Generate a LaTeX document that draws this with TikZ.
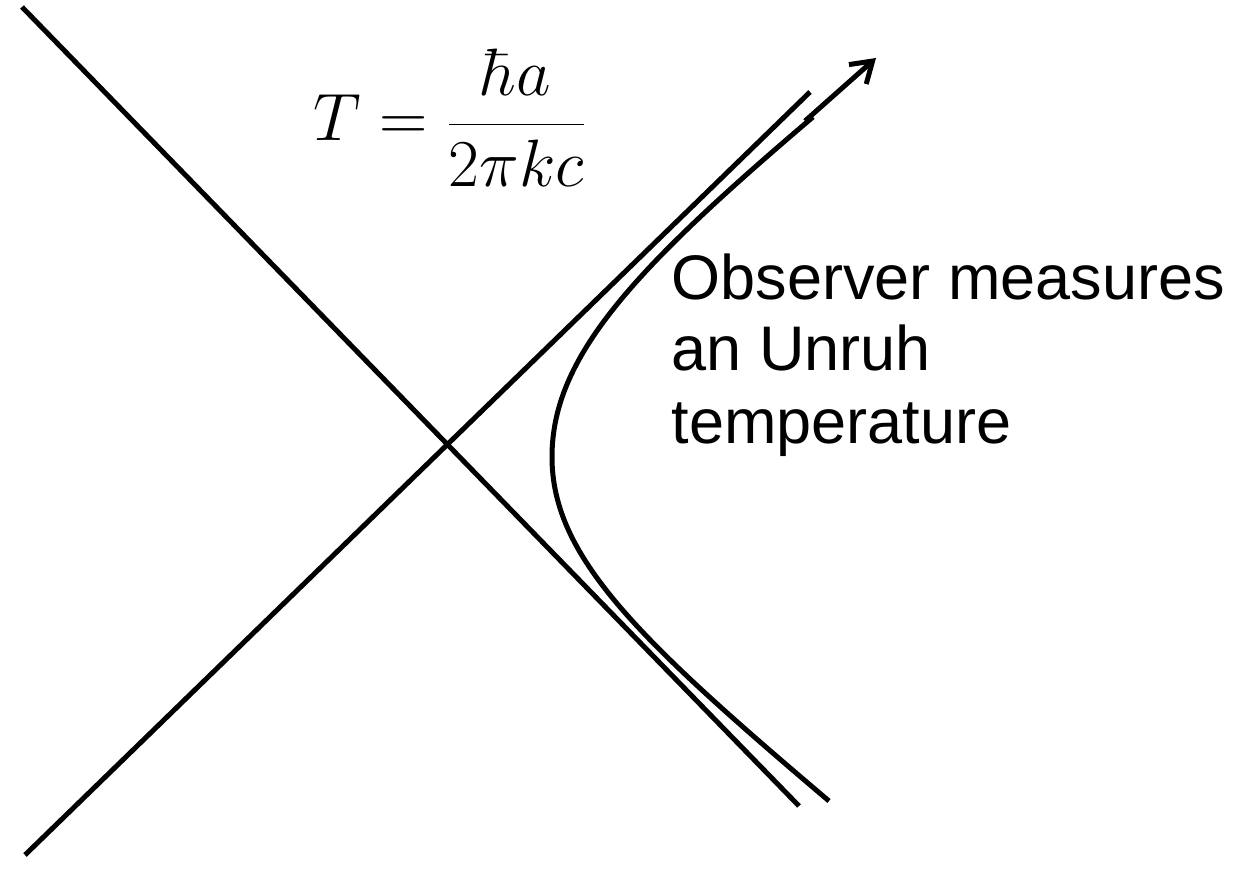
\RequirePackage{fix-cm}
\documentclass[tikz,border=0pt]{standalone}
\usepackage{fontspec}
\setsansfont{Liberation Sans}
\usetikzlibrary{arrows.meta}
\begin{document}
\begin{tikzpicture}[x=0.5pt, y=-0.5pt, line width=2.5pt]
    \useasboundingbox (0,0) rectangle (1244,872);

    % Light cone
    \coordinate (past) at (22,7);
    \coordinate (pastend) at (799,806);
    \coordinate (future) at (25,855);
    \coordinate (futureend) at (810,92);
    \draw (past) -- (pastend);
    \draw (future) -- (futureend);

    % Worldline of the accelerated observer
    \coordinate (bottom) at (829,801);
    \coordinate (vertex) at (552,457);
    \coordinate (top) at (813,117);
    \draw (bottom) .. controls (639,640) and (552,557) .. (vertex)
        .. controls (552,357) and (633,270) .. (top);

    % Direction of proper time
    \coordinate (arrowstart) at (805,121);
    \coordinate (arrowtip) at (876,58);
    \draw[-{Straight Barb[length=10pt, width=13pt]}] (arrowstart) -- (arrowtip);

    % Labels
    \node[font=\fontsize{33.5}{38}\selectfont, anchor=base west, inner sep=0] (formula) at (311,141) {$\displaystyle T=\frac{\hbar a}{2\pi kc}$};
    \node[font=\sffamily\fontsize{31.5}{36}\selectfont, align=left, anchor=base west, inner sep=0] (observer) at (669,443) {Observer measures\\an Unruh\\temperature};
\end{tikzpicture}
\end{document}
